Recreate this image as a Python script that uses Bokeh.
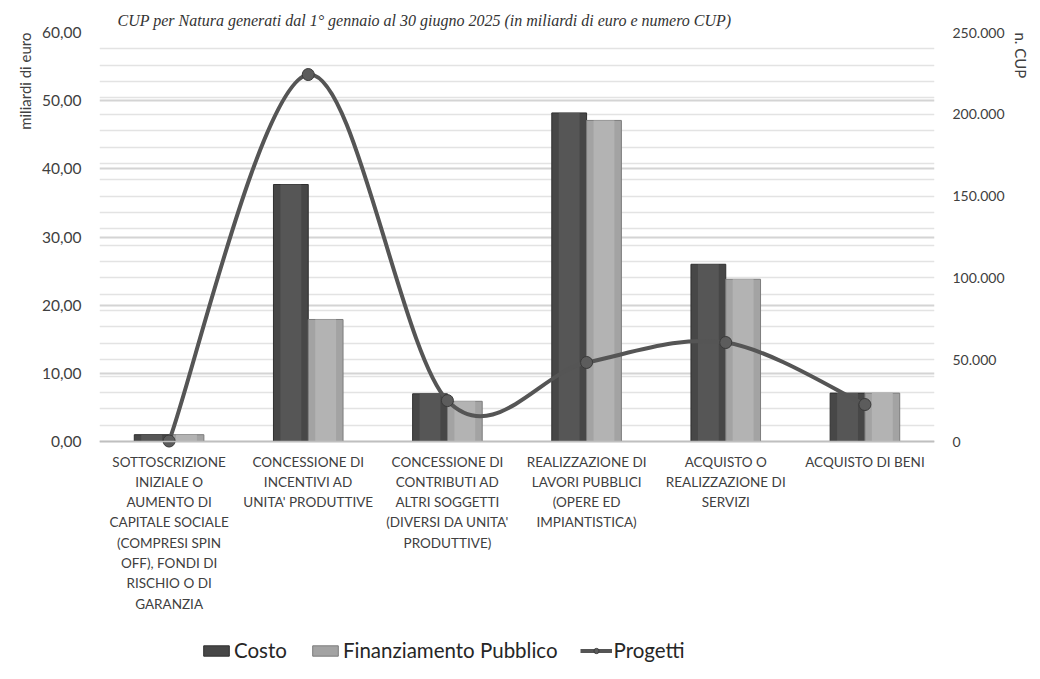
import numpy as np
from bokeh.plotting import figure
from bokeh.models import (ColumnDataSource, Range1d, LinearAxis, Grid, FixedTicker,
                          Legend, LegendItem, Title, Span)
from bokeh.core.properties import value
from bokeh.embed import file_html
from bokeh.resources import INLINE

# ---------------- data ----------------
categories = [
    "SOTTOSCRIZIONE\nINIZIALE O\nAUMENTO DI\nCAPITALE SOCIALE\n(COMPRESI SPIN\nOFF), FONDI DI\nRISCHIO O DI\nGARANZIA",
    "CONCESSIONE DI\nINCENTIVI AD\nUNITA' PRODUTTIVE",
    "CONCESSIONE DI\nCONTRIBUTI AD\nALTRI SOGGETTI\n(DIVERSI DA UNITA'\nPRODUTTIVE)",
    "REALIZZAZIONE DI\nLAVORI PUBBLICI\n(OPERE ED\nIMPIANTISTICA)",
    "ACQUISTO O\nREALIZZAZIONE DI\nSERVIZI",
    "ACQUISTO DI BENI",
]
costo = [1.0, 37.7, 7.0, 48.2, 26.0, 7.1]            # miliardi di euro
finanziamento = [1.0, 17.9, 5.9, 47.1, 23.8, 7.1]    # miliardi di euro
progetti = [300, 224300, 25000, 48300, 60500, 22600] # n. CUP

left_ticks = [0, 10, 20, 30, 40, 50, 60]
left_labels = ["0,00", "10,00", "20,00", "30,00", "40,00", "50,00", "60,00"]
right_ticks = [0, 50000, 100000, 150000, 200000, 250000]
right_labels = ["0", "50.000", "100.000", "150.000", "200.000", "250.000"]

title_text = "CUP per Natura generati dal 1° gennaio al 30 giugno 2025 (in miliardi di euro e numero CUP)"

FONT = "Lato"

# ---------------- layout geometry ----------------
PLOT_H = 409          # px from value 0 up to the top value
BELOW_H = 229         # px below the 0 line reserved for category labels and legend
L_MAX, R_MAX = left_ticks[-1], right_ticks[-1]
l_min = -L_MAX * BELOW_H / PLOT_H
r_min = -R_MAX * BELOW_H / PLOT_H

p = figure(frame_width=835, frame_height=PLOT_H + BELOW_H,
           x_range=Range1d(0.5, 6.5), y_range=Range1d(l_min, L_MAX),
           output_backend="svg", toolbar_location=None,
           min_border_left=99, min_border_right=80, min_border_top=32, min_border_bottom=0)
p.extra_y_ranges = {"cup": Range1d(r_min, R_MAX)}
p.outline_line_color = None
p.background_fill_color = "white"
p.border_fill_color = "white"
p.xaxis.visible = False

# chart title
p.title.text = title_text
p.title.text_font = "Liberation Serif"
p.title.text_font_style = "italic"
p.title.text_font_size = "16px"
p.title.text_color = "#333333"
p.title.align = "left"
p.title.offset = 18
p.title.standoff = 8

# grids
p.xgrid.visible = False
p.ygrid.ticker = FixedTicker(ticks=left_ticks)
p.ygrid.grid_line_color = "#d4d4d4"
p.ygrid.grid_line_width = 2
g2 = Grid(dimension=1, ticker=FixedTicker(ticks=list(range(0, R_MAX + 1, 10000))), y_range_name="cup",
          grid_line_color="#e3e3e3", grid_line_width=1.5)
p.add_layout(g2)
p.add_layout(Span(location=0, dimension="width", line_color="#bfbfbf", line_width=1.5))

# left axis
ya = p.yaxis[0]
ya.ticker = FixedTicker(ticks=left_ticks)
ya.major_label_overrides = {t: l for t, l in zip(left_ticks, left_labels)}
ya.axis_line_color = None
ya.major_tick_line_color = None
ya.minor_tick_line_color = None
ya.major_tick_out = 0
ya.major_label_text_font = FONT
ya.major_label_text_font_size = "15.5px"
ya.major_label_text_color = "#404040"
ya.major_label_standoff = 18

# right axis
ra = LinearAxis(y_range_name="cup", ticker=FixedTicker(ticks=right_ticks),
                major_label_overrides={t: l for t, l in zip(right_ticks, right_labels)})
ra.axis_line_color = None
ra.major_tick_line_color = None
ra.minor_tick_line_color = None
ra.major_tick_out = 0
ra.major_label_text_font = FONT
ra.major_label_text_font_size = "14px"
ra.major_label_text_color = "#404040"
ra.major_label_standoff = 18
p.add_layout(ra, "right")

# axis titles
p.add_layout(Title(text="miliardi di euro", align="right", text_font=FONT, text_font_size="15px",
                   text_font_style="normal", text_color="#404040", standoff=12), "left")
p.add_layout(Title(text="n. CUP", align="left", text_font=FONT, text_font_size="15px",
                   text_font_style="normal", text_color="#404040", standoff=8), "right")

# ---------------- category labels ----------------
xs = list(range(1, len(categories) + 1))
lab_src = ColumnDataSource(dict(x=xs, y=[0] * len(xs), t=categories))
p.text(x="x", y="y", text="t", source=lab_src, text_align="center", text_baseline="top",
       y_offset=12, text_font=value(FONT), text_font_size=value("13.5px"),
       text_color="#404040", text_line_height=1.27)

# ---------------- bars ----------------
bw = 0.25
x_c = [x - bw / 2 for x in xs]
x_f = [x + bw / 2 for x in xs]
src = ColumnDataSource(dict(x_c=x_c, x_f=x_f, costo=costo, fin=finanziamento))
r_c = p.vbar(x="x_c", top="costo", width=bw, source=src, fill_color="#474747", line_color="#2f2f2f", line_width=1)
r_f = p.vbar(x="x_f", top="fin", width=bw, source=src, fill_color="#a3a3a3", line_color="#7c7c7c", line_width=1)
# subtle inner highlight for 3D look
p.vbar(x="x_c", top="costo", width=bw * 0.6, source=src, fill_color="#565656", line_color=None)
p.vbar(x="x_f", top="fin", width=bw * 0.6, source=src, fill_color="#b3b3b3", line_color=None)

# ---------------- smoothed line (Bezier segments) ----------------
pts = list(zip(xs, progetti))
n = len(pts)
seg = dict(x0=[], y0=[], x1=[], y1=[], cx0=[], cy0=[], cx1=[], cy1=[])
for i in range(n - 1):
    p0 = pts[i - 1] if i > 0 else pts[i]
    p1 = pts[i]
    p2 = pts[i + 1]
    p3 = pts[i + 2] if i + 2 < n else pts[i + 1]
    seg["x0"].append(p1[0]); seg["y0"].append(p1[1])
    seg["x1"].append(p2[0]); seg["y1"].append(p2[1])
    seg["cx0"].append(p1[0] + (p2[0] - p0[0]) / 6); seg["cy0"].append(p1[1] + (p2[1] - p0[1]) / 6)
    seg["cx1"].append(p2[0] - (p3[0] - p1[0]) / 6); seg["cy1"].append(p2[1] - (p3[1] - p1[1]) / 6)
r_bz = p.bezier(x0="x0", y0="y0", x1="x1", y1="y1", cx0="cx0", cy0="cy0", cx1="cx1", cy1="cy1",
                source=ColumnDataSource(seg), y_range_name="cup", line_color="#555555", line_width=4)
lsrc = ColumnDataSource(dict(x=xs, y=progetti))
r_pt = p.scatter(x="x", y="y", source=lsrc, y_range_name="cup", marker="circle", size=12,
                 fill_color="#5c5c5c", line_color="#3a3a3a", line_width=1)

legend = Legend(items=[LegendItem(label="Costo", renderers=[r_c]),
                       LegendItem(label="Finanziamento Pubblico", renderers=[r_f]),
                       LegendItem(label="Progetti", renderers=[r_bz, r_pt])],
                orientation="horizontal", location=(101, 8),
                label_text_font=FONT, label_text_font_size="20.5px", label_text_color="#262626",
                glyph_width=32, glyph_height=13, spacing=22, label_standoff=2,
                border_line_color=None, background_fill_alpha=0, margin=0, padding=4)
p.add_layout(legend, "center")

with open("out.html", "w") as f:
    f.write(file_html(p, INLINE))
